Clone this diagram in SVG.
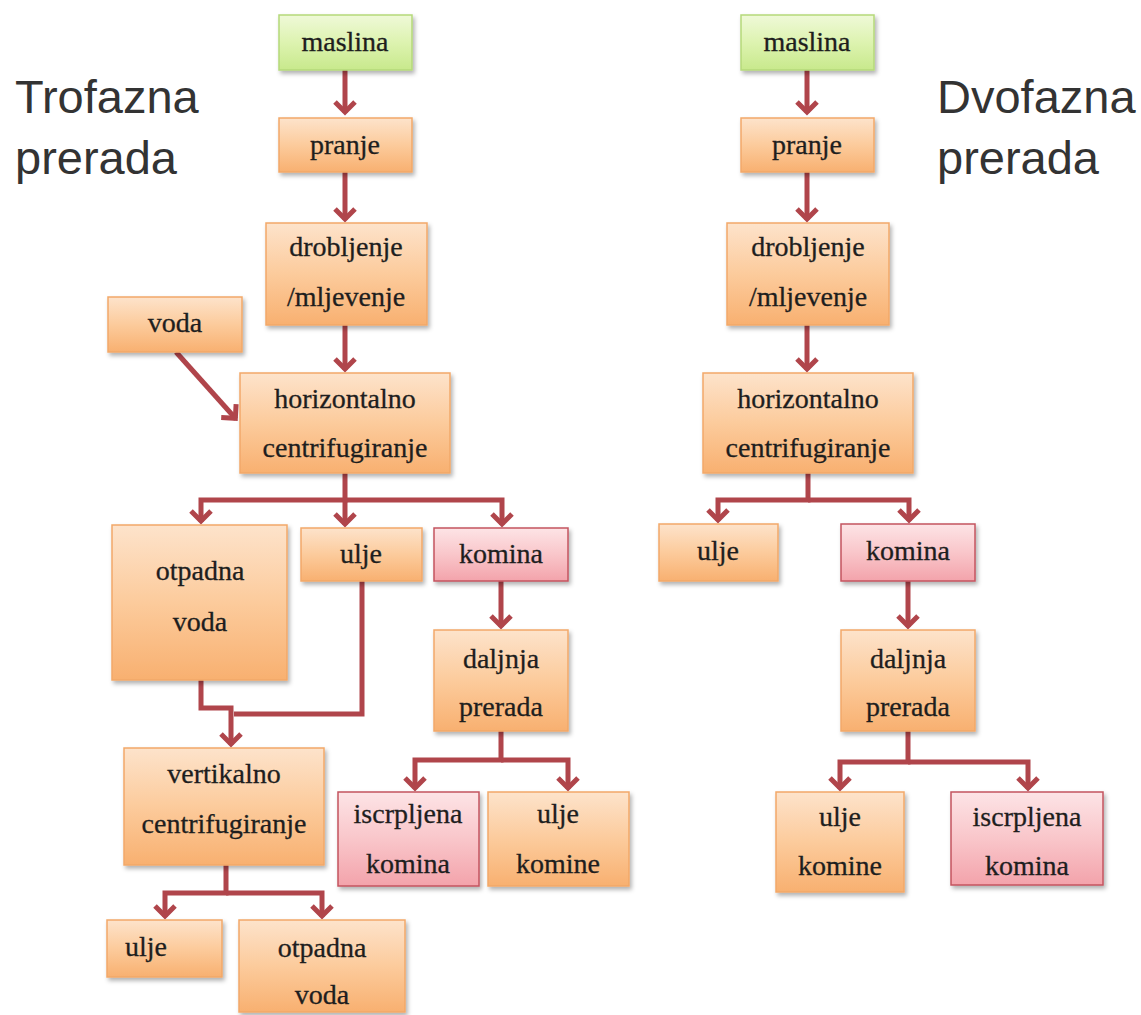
<svg xmlns="http://www.w3.org/2000/svg" width="1141" height="1015" viewBox="0 0 1141 1015">
<defs>
<linearGradient id="gO" x1="0" y1="0" x2="0" y2="1"><stop offset="0" stop-color="#fde3cb"/><stop offset="0.5" stop-color="#fccb9c"/><stop offset="1" stop-color="#f8b070"/></linearGradient>
<linearGradient id="gG" x1="0" y1="0" x2="0" y2="1"><stop offset="0" stop-color="#eff9d8"/><stop offset="0.5" stop-color="#ddf3b0"/><stop offset="1" stop-color="#c8e98c"/></linearGradient>
<linearGradient id="gP" x1="0" y1="0" x2="0" y2="1"><stop offset="0" stop-color="#fde4e6"/><stop offset="0.5" stop-color="#f9c6ca"/><stop offset="1" stop-color="#f3a3ab"/></linearGradient>
<filter id="sh" x="-10%" y="-10%" width="125%" height="130%"><feDropShadow dx="2" dy="3" stdDeviation="2" flood-color="#000" flood-opacity="0.3"/></filter>
<marker id="ah" markerUnits="userSpaceOnUse" viewBox="-16 -14 20 28" markerWidth="20" markerHeight="28" refX="0" refY="0" orient="auto" overflow="visible">
<path d="M-11,-10 L-1,0 L-11,10" fill="none" stroke="#b0454b" stroke-width="5" stroke-linejoin="miter"/>
</marker>
<style>
.o rect{fill:url(#gO);stroke:#f2a869;stroke-width:1.5;filter:url(#sh)}
.g rect{fill:url(#gG);stroke:#b5d97a;stroke-width:1.5;filter:url(#sh)}
.p rect{fill:url(#gP);stroke:#c4545f;stroke-width:1.5;filter:url(#sh)}
text.t{font-size:28px;fill:#1e1e1e;stroke:#1e1e1e;stroke-width:0.3;text-anchor:middle}
text.h{font-size:47px;fill:#333}
#connectors path{fill:none;stroke:#b0454b;stroke-width:5}
</style>
</defs>
<rect width="1141" height="1015" fill="#fff"/>
<g font-family="'Liberation Sans', Arial, sans-serif">
<text class="h" x="15" y="113">Trofazna</text>
<text class="h" x="15" y="174">prerada</text>
<text class="h" x="937" y="113">Dvofazna</text>
<text class="h" x="937" y="174">prerada</text>
</g>

<g id="connectors">
<path d="M345,70 V113" marker-end="url(#ah)"/>
<path d="M345,172 V220" marker-end="url(#ah)"/>
<path d="M345,325 V370" marker-end="url(#ah)"/>
<path d="M176,352 L236,419" marker-end="url(#ah)"/>
<path d="M345,473 V500 H201 V522" marker-end="url(#ah)"/>
<path d="M345,500 V525" marker-end="url(#ah)"/>
<path d="M345,500 H502 V525" marker-end="url(#ah)"/>
<path d="M501,581 V627" marker-end="url(#ah)"/>
<path d="M201,680 V708 H231 V745" marker-end="url(#ah)"/>
<path d="M362,581 V714 H234"/>
<path d="M501,731 V760 H415 V789" marker-end="url(#ah)"/>
<path d="M501,760 H568 V789" marker-end="url(#ah)"/>
<path d="M226,865 V893 H165 V917" marker-end="url(#ah)"/>
<path d="M226,893 H322 V917" marker-end="url(#ah)"/>
<path d="M807,70 V113" marker-end="url(#ah)"/>
<path d="M807,172 V220" marker-end="url(#ah)"/>
<path d="M807,325 V370" marker-end="url(#ah)"/>
<path d="M808,473 V500 H718 V521" marker-end="url(#ah)"/>
<path d="M808,500 H909 V521" marker-end="url(#ah)"/>
<path d="M908,581 V627" marker-end="url(#ah)"/>
<path d="M908,731 V762 H840 V789" marker-end="url(#ah)"/>
<path d="M908,762 H1028 V789" marker-end="url(#ah)"/>
</g>

<g font-family="'Liberation Serif', 'Times New Roman', serif">
<g id="L_maslina" class="g"><rect x="279" y="15" width="133" height="55"/><text class="t" x="345" y="51">maslina</text></g>
<g id="L_pranje" class="o"><rect x="279" y="118" width="133" height="54"/><text class="t" x="345" y="154">pranje</text></g>
<g id="L_drob" class="o"><rect x="266" y="223" width="161" height="102"/><text class="t" x="346" y="256">drobljenje</text><text class="t" x="346" y="306">/mljevenje</text></g>
<g id="L_voda" class="o"><rect x="108" y="297" width="134" height="55"/><text class="t" x="175" y="332">voda</text></g>
<g id="L_horiz" class="o"><rect x="240" y="373" width="210" height="100"/><text class="t" x="345" y="408">horizontalno</text><text class="t" x="345" y="457">centrifugiranje</text></g>
<g id="L_otpadna" class="o"><rect x="112" y="525" width="175" height="155"/><text class="t" x="200" y="580">otpadna</text><text class="t" x="200" y="631">voda</text></g>
<g id="L_ulje" class="o"><rect x="301" y="528" width="121" height="53"/><text class="t" x="361" y="563">ulje</text></g>
<g id="L_komina" class="p"><rect x="434" y="528" width="134" height="53"/><text class="t" x="501" y="563">komina</text></g>
<g id="L_daljnja" class="o"><rect x="434" y="630" width="134" height="101"/><text class="t" x="501" y="668">daljnja</text><text class="t" x="501" y="716">prerada</text></g>
<g id="L_vert" class="o"><rect x="124" y="748" width="200" height="117"/><text class="t" x="224" y="783">vertikalno</text><text class="t" x="224" y="833">centrifugiranje</text></g>
<g id="L_iscrp" class="p"><rect x="338" y="792" width="141" height="94"/><text class="t" x="408" y="823">iscrpljena</text><text class="t" x="408" y="873">komina</text></g>
<g id="L_uljekom" class="o"><rect x="488" y="792" width="141" height="94"/><text class="t" x="558" y="823">ulje</text><text class="t" x="558" y="873">komine</text></g>
<g id="L_ulje2" class="o"><rect x="107" y="920" width="115" height="57"/><text class="t" x="146" y="956">ulje</text></g>
<g id="L_otpadna2" class="o"><rect x="239" y="920" width="166" height="92"/><text class="t" x="322" y="957">otpadna</text><text class="t" x="322" y="1004">voda</text></g>

<g id="R_maslina" class="g"><rect x="741" y="15" width="133" height="55"/><text class="t" x="807" y="51">maslina</text></g>
<g id="R_pranje" class="o"><rect x="741" y="118" width="133" height="54"/><text class="t" x="807" y="154">pranje</text></g>
<g id="R_drob" class="o"><rect x="727" y="223" width="162" height="102"/><text class="t" x="808" y="256">drobljenje</text><text class="t" x="808" y="306">/mljevenje</text></g>
<g id="R_horiz" class="o"><rect x="703" y="373" width="210" height="100"/><text class="t" x="808" y="408">horizontalno</text><text class="t" x="808" y="457">centrifugiranje</text></g>
<g id="R_ulje" class="o"><rect x="659" y="524" width="119" height="57"/><text class="t" x="718" y="560">ulje</text></g>
<g id="R_komina" class="p"><rect x="841" y="524" width="134" height="57"/><text class="t" x="908" y="560">komina</text></g>
<g id="R_daljnja" class="o"><rect x="841" y="630" width="134" height="101"/><text class="t" x="908" y="668">daljnja</text><text class="t" x="908" y="716">prerada</text></g>
<g id="R_uljekom" class="o"><rect x="776" y="792" width="128" height="100"/><text class="t" x="840" y="826">ulje</text><text class="t" x="840" y="875">komine</text></g>
<g id="R_iscrp" class="p"><rect x="951" y="792" width="152" height="93"/><text class="t" x="1027" y="826">iscrpljena</text><text class="t" x="1027" y="875">komina</text></g>
</g>
</svg>
